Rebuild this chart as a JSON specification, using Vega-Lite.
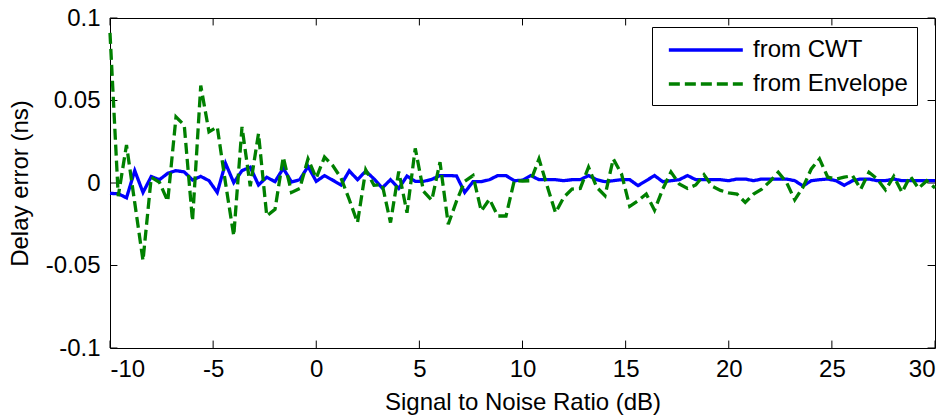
{
  "$schema": "https://vega.github.io/schema/vega-lite/v6.json",
  "width": 825,
  "height": 330,
  "autosize": {"type": "none"},
  "padding": {"left": 110, "top": 18, "right": 15, "bottom": 69},
  "background": "white",
  "config": {
    "font": "Liberation Sans",
    "view": {"stroke": "black", "strokeWidth": 1},
    "axis": {
      "grid": false,
      "domainColor": "black",
      "tickColor": "black",
      "labelColor": "black",
      "labelFontSize": 24,
      "titleColor": "black",
      "titleFontSize": 24,
      "titleFontWeight": "normal"
    }
  },
  "datasets": {
    "errors": [
      {"snr": -10, "from CWT": -0.0063, "from Envelope": 0.091},
      {"snr": -9.6, "from CWT": -0.0065, "from Envelope": -0.008},
      {"snr": -9.2, "from CWT": -0.009, "from Envelope": 0.023},
      {"snr": -8.8, "from CWT": 0.0075, "from Envelope": -0.012},
      {"snr": -8.4, "from CWT": -0.0057, "from Envelope": -0.047},
      {"snr": -8, "from CWT": 0.0039, "from Envelope": 0.0035},
      {"snr": -7.6, "from CWT": 0.002, "from Envelope": 0.0004},
      {"snr": -7.2, "from CWT": 0.0059, "from Envelope": -0.011},
      {"snr": -6.8, "from CWT": 0.0075, "from Envelope": 0.04},
      {"snr": -6.4, "from CWT": 0.0067, "from Envelope": 0.035},
      {"snr": -6, "from CWT": 0.0018, "from Envelope": -0.023},
      {"snr": -5.6, "from CWT": 0.004, "from Envelope": 0.059},
      {"snr": -5.2, "from CWT": 0.0014, "from Envelope": 0.031},
      {"snr": -4.8, "from CWT": -0.0057, "from Envelope": 0.034},
      {"snr": -4.4, "from CWT": 0.012, "from Envelope": 0.0},
      {"snr": -4, "from CWT": 0.0002, "from Envelope": -0.032},
      {"snr": -3.6, "from CWT": 0.0075, "from Envelope": 0.034},
      {"snr": -3.2, "from CWT": 0.0096, "from Envelope": -0.002},
      {"snr": -2.8, "from CWT": -0.0012, "from Envelope": 0.03},
      {"snr": -2.4, "from CWT": 0.0035, "from Envelope": -0.02},
      {"snr": -2, "from CWT": 0.0008, "from Envelope": -0.016},
      {"snr": -1.6, "from CWT": 0.0089, "from Envelope": 0.0157},
      {"snr": -1.2, "from CWT": 0.0006, "from Envelope": -0.0057},
      {"snr": -0.8, "from CWT": 0.002, "from Envelope": -0.0033},
      {"snr": -0.4, "from CWT": 0.01, "from Envelope": 0.0146},
      {"snr": 0, "from CWT": 0.001, "from Envelope": 0.003},
      {"snr": 0.4, "from CWT": 0.0045, "from Envelope": 0.0157},
      {"snr": 0.8, "from CWT": 0.0017, "from Envelope": 0.0106},
      {"snr": 1.2, "from CWT": -0.0012, "from Envelope": 0.003},
      {"snr": 1.6, "from CWT": 0.0074, "from Envelope": -0.01},
      {"snr": 2, "from CWT": 0.002, "from Envelope": -0.024},
      {"snr": 2.4, "from CWT": 0.0072, "from Envelope": 0.008},
      {"snr": 2.8, "from CWT": 0.0025, "from Envelope": -0.0014},
      {"snr": 3.2, "from CWT": -0.003, "from Envelope": -0.001},
      {"snr": 3.6, "from CWT": 0.002, "from Envelope": -0.024},
      {"snr": 4, "from CWT": -0.0033, "from Envelope": 0.007},
      {"snr": 4.4, "from CWT": 0.0042, "from Envelope": -0.018},
      {"snr": 4.8, "from CWT": 0.001, "from Envelope": 0.021},
      {"snr": 5.2, "from CWT": 0.001, "from Envelope": -0.005},
      {"snr": 5.6, "from CWT": 0.0022, "from Envelope": -0.0105},
      {"snr": 6, "from CWT": 0.0045, "from Envelope": 0.0126},
      {"snr": 6.4, "from CWT": 0.0045, "from Envelope": -0.025},
      {"snr": 6.8, "from CWT": 0.0043, "from Envelope": -0.011},
      {"snr": 7.2, "from CWT": -0.0057, "from Envelope": 0.001},
      {"snr": 7.6, "from CWT": 0.0008, "from Envelope": 0.0045},
      {"snr": 8, "from CWT": 0.0008, "from Envelope": -0.017},
      {"snr": 8.4, "from CWT": 0.002, "from Envelope": -0.0098},
      {"snr": 8.8, "from CWT": 0.0045, "from Envelope": -0.02},
      {"snr": 9.2, "from CWT": 0.0045, "from Envelope": -0.02},
      {"snr": 9.6, "from CWT": 0.0014, "from Envelope": 0.0014},
      {"snr": 10, "from CWT": 0.0017, "from Envelope": 0.0012},
      {"snr": 10.4, "from CWT": 0.0045, "from Envelope": 0.0014},
      {"snr": 10.8, "from CWT": 0.002, "from Envelope": 0.0146},
      {"snr": 11.2, "from CWT": 0.002, "from Envelope": -0.002},
      {"snr": 11.6, "from CWT": 0.002, "from Envelope": -0.018},
      {"snr": 12, "from CWT": 0.0014, "from Envelope": -0.0087},
      {"snr": 12.4, "from CWT": 0.002, "from Envelope": -0.0037},
      {"snr": 12.8, "from CWT": 0.002, "from Envelope": -0.0033},
      {"snr": 13.2, "from CWT": 0.0045, "from Envelope": 0.0096},
      {"snr": 13.6, "from CWT": 0.002, "from Envelope": -0.0026},
      {"snr": 14, "from CWT": 0.0008, "from Envelope": -0.0077},
      {"snr": 14.4, "from CWT": 0.0014, "from Envelope": 0.0146},
      {"snr": 14.8, "from CWT": 0.002, "from Envelope": 0.0055},
      {"snr": 15.2, "from CWT": 0.002, "from Envelope": -0.0142},
      {"snr": 15.6, "from CWT": -0.0016, "from Envelope": -0.0108},
      {"snr": 16, "from CWT": 0.0014, "from Envelope": -0.0067},
      {"snr": 16.4, "from CWT": 0.0045, "from Envelope": -0.0165},
      {"snr": 16.8, "from CWT": 0.0008, "from Envelope": -0.0037},
      {"snr": 17.2, "from CWT": 0.0014, "from Envelope": 0.0067},
      {"snr": 17.6, "from CWT": 0.002, "from Envelope": -0.0006},
      {"snr": 18, "from CWT": 0.0045, "from Envelope": -0.0033},
      {"snr": 18.4, "from CWT": 0.002, "from Envelope": -0.0012},
      {"snr": 18.8, "from CWT": 0.002, "from Envelope": 0.005},
      {"snr": 19.2, "from CWT": 0.002, "from Envelope": -0.002},
      {"snr": 19.6, "from CWT": 0.002, "from Envelope": -0.0045},
      {"snr": 20, "from CWT": 0.0014, "from Envelope": -0.006},
      {"snr": 20.4, "from CWT": 0.0024, "from Envelope": -0.0067},
      {"snr": 20.8, "from CWT": 0.0024, "from Envelope": -0.0118},
      {"snr": 21.2, "from CWT": 0.0014, "from Envelope": -0.0067},
      {"snr": 21.6, "from CWT": 0.0024, "from Envelope": -0.0037},
      {"snr": 22, "from CWT": 0.0024, "from Envelope": 0.001},
      {"snr": 22.4, "from CWT": 0.0024, "from Envelope": 0.0065},
      {"snr": 22.8, "from CWT": 0.0024, "from Envelope": 0.0004},
      {"snr": 23.2, "from CWT": 0.0014, "from Envelope": -0.0102},
      {"snr": 23.6, "from CWT": -0.0018, "from Envelope": -0.0026},
      {"snr": 24, "from CWT": 0.0014, "from Envelope": 0.0085},
      {"snr": 24.4, "from CWT": 0.002, "from Envelope": 0.0146},
      {"snr": 24.8, "from CWT": 0.0024, "from Envelope": 0.0035},
      {"snr": 25.2, "from CWT": 0.0014, "from Envelope": 0.0024},
      {"snr": 25.6, "from CWT": -0.0014, "from Envelope": 0.0035},
      {"snr": 26, "from CWT": 0.0014, "from Envelope": 0.0045},
      {"snr": 26.4, "from CWT": 0.0024, "from Envelope": -0.0037},
      {"snr": 26.8, "from CWT": 0.0024, "from Envelope": 0.0065},
      {"snr": 27.2, "from CWT": 0.0014, "from Envelope": 0.0024},
      {"snr": 27.6, "from CWT": 0.0014, "from Envelope": -0.0042},
      {"snr": 28, "from CWT": 0.0024, "from Envelope": 0.004},
      {"snr": 28.4, "from CWT": 0.0014, "from Envelope": -0.0057},
      {"snr": 28.8, "from CWT": 0.0014, "from Envelope": 0.0042},
      {"snr": 29.2, "from CWT": 0.0014, "from Envelope": -0.0032},
      {"snr": 29.6, "from CWT": 0.0014, "from Envelope": 0.0014},
      {"snr": 30, "from CWT": 0.0014, "from Envelope": -0.003}
    ],
    "xticks": [{"v": -10}, {"v": -5}, {"v": 0}, {"v": 5}, {"v": 10}, {"v": 15}, {"v": 20}, {"v": 25}, {"v": 30}],
    "yticks": [{"v": -0.1}, {"v": -0.05}, {"v": 0}, {"v": 0.05}, {"v": 0.1}]
  },
  "layer": [
    {
      "data": {"name": "xticks"},
      "mark": {"type": "rule", "color": "black", "strokeWidth": 1},
      "encoding": {
        "x": {"field": "v", "type": "quantitative"},
        "y": {"datum": -0.1},
        "y2": {"datum": -0.0955}
      }
    },
    {
      "data": {"name": "xticks"},
      "mark": {"type": "rule", "color": "black", "strokeWidth": 1},
      "encoding": {
        "x": {"field": "v", "type": "quantitative"},
        "y": {"datum": 0.1},
        "y2": {"datum": 0.0955}
      }
    },
    {
      "data": {"name": "yticks"},
      "mark": {"type": "rule", "color": "black", "strokeWidth": 1},
      "encoding": {
        "y": {"field": "v", "type": "quantitative"},
        "x": {"datum": -10},
        "x2": {"datum": -9.64}
      }
    },
    {
      "data": {"name": "yticks"},
      "mark": {"type": "rule", "color": "black", "strokeWidth": 1},
      "encoding": {
        "y": {"field": "v", "type": "quantitative"},
        "x": {"datum": 30},
        "x2": {"datum": 29.64}
      }
    },
    {
      "data": {"name": "errors"},
      "transform": [{"fold": ["from CWT", "from Envelope"], "as": ["series", "value"]}],
      "mark": {"type": "line", "strokeWidth": 3.3, "strokeJoin": "miter"},
      "encoding": {
        "x": {
          "field": "snr", "type": "quantitative",
          "scale": {"domain": [-10, 30], "nice": false, "zero": false},
          "axis": {"orient": "bottom", "values": [-10, -5, 0, 5, 10, 15, 20, 25, 30], "labelExpr": "'' + datum.value", "ticks": false, "domain": false, "labelPadding": 9, "title": "Signal to Noise Ratio (dB)", "titlePadding": 9}
        },
        "y": {
          "field": "value", "type": "quantitative",
          "scale": {"domain": [-0.1, 0.1], "nice": false, "zero": false},
          "axis": {"orient": "left", "values": [-0.1, -0.05, 0, 0.05, 0.1], "labelExpr": "'' + datum.value", "ticks": false, "domain": false, "labelPadding": 10, "title": "Delay error (ns)", "titlePadding": 13}
        },
        "color": {
          "field": "series", "type": "nominal",
          "scale": {"domain": ["from CWT", "from Envelope"], "range": ["#0000ff", "#008000"]},
          "legend": {"title": null, "orient": "none", "legendX": 542, "legendY": 9, "symbolType": "M-0.5,0H5.5", "symbolSize": 608, "symbolStrokeWidth": 3.3, "labelFontSize": 24, "labelColor": "black", "labelOffset": 64, "rowPadding": 8, "padding": 9, "strokeColor": "black", "fillColor": "white", "cornerRadius": 0}
        },
        "strokeDash": {
          "field": "series", "type": "nominal",
          "scale": {"domain": ["from CWT", "from Envelope"], "range": [[1, 0], [11, 5]]},
          "legend": {"title": null, "orient": "none", "legendX": 542, "legendY": 9, "symbolType": "M-0.5,0H5.5", "symbolSize": 608, "symbolStrokeWidth": 3.3, "labelFontSize": 24, "labelColor": "black", "labelOffset": 64, "rowPadding": 8, "padding": 9, "strokeColor": "black", "fillColor": "white", "cornerRadius": 0}
        }
      }
    }
  ]
}
